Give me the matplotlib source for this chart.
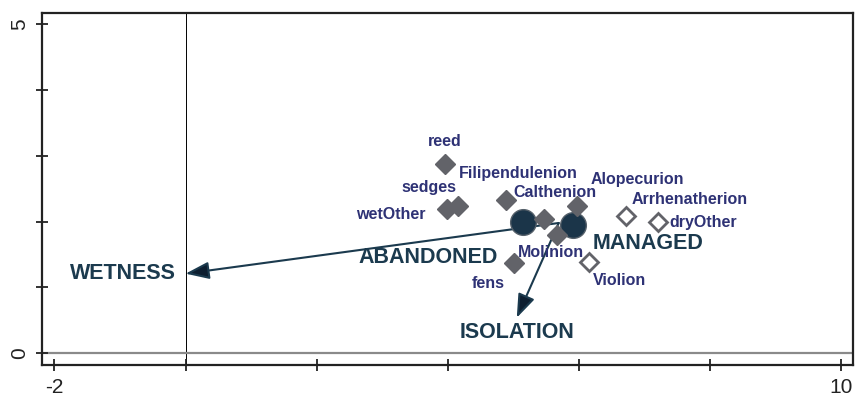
import matplotlib
matplotlib.use("Agg")
import matplotlib.pyplot as plt
from matplotlib.patches import FancyArrowPatch

plt.rcParams["font.family"] = ["Liberation Sans", "DejaVu Sans"]

# ── palette ──────────────────────────────────────────────────────────────
LABEL  = "#2e3275"   # species labels
BIG    = "#1b3a4e"   # site / vector labels
DIAM   = "#626369"   # diamond markers
CIRCLE = "#1b3549"
ARROW  = "#1b3a4e"

# ── data ─────────────────────────────────────────────────────────────────
# filled diamonds (wet / intermediate communities)
wet_names = ["reed", "sedges", "wetOther", "Filipendulenion", "Calthenion",
             "Alopecurion", "Molinion", "fens"]
wet_x = [3.95, 4.15, 3.98, 4.89, 5.47, 5.97, 5.66, 5.01]
wet_y = [2.88, 2.24, 2.19, 2.33, 2.04, 2.24, 1.80, 1.37]

# open diamonds (dry communities)
dry_names = ["Arrhenatherion", "dryOther", "Violion"]
dry_x = [6.71, 7.20, 6.15]
dry_y = [2.09, 1.99, 1.38]

# site centroids
site_names = ["ABANDONED", "MANAGED"]
site_x = [5.15, 5.91]
site_y = [2.00, 1.95]

# environmental vectors (from common origin)
vec_origin = (5.69, 1.98)
vec_names = ["WETNESS", "ISOLATION"]
vec_x = [0.0, 5.05]
vec_y = [1.21, 0.54]

# label offsets in points (dx, dy, ha)
wet_lab = {
    "reed": (0, 16, "center"), "sedges": (-1, 13, "right"),
    "wetOther": (-15.5, -4, "right"), "Filipendulenion": (-34, 19, "left"),
    "Calthenion": (-22, 19, "left"), "Alopecurion": (9.5, 19, "left"),
    "Molinion": (-28, -13, "left"), "fens": (-6.5, -15, "right"),
}
dry_lab = {
    "Arrhenatherion": (4.3, 11.5, "left"), "dryOther": (8.6, 0, "left"),
    "Violion": (3, -13, "left"),
}

fig = plt.figure(figsize=(8.56, 3.96), dpi=100)
ax = fig.add_axes([0.049, 0.078, 0.947, 0.889])

ax.set_xlim(-2.19, 10.17)
ax.set_ylim(-0.18, 5.17)
ax.axvline(0, color="black", linewidth=0.7, zorder=1)
ax.axhline(0, color="#8a8a8a", linewidth=1.6, zorder=1)

# vectors
for name, x, y in zip(vec_names, vec_x, vec_y):
    ar = FancyArrowPatch(vec_origin, (x, y),
                         arrowstyle="-|>,head_length=0.6,head_width=0.22",
                         mutation_scale=24, shrinkA=0, shrinkB=0,
                         color=ARROW, linewidth=1.5, zorder=2)
    ar.set_facecolor("#0d1e30")
    ax.add_patch(ar)
ax.text(vec_x[0] - 0.15, vec_y[0], vec_names[0], ha="right", va="center",
        fontsize=15.5, fontweight="bold", color=BIG)
ax.text(vec_x[1], vec_y[1] - 0.22, vec_names[1], ha="center", va="center",
        fontsize=15.5, fontweight="bold", color=BIG)

# site centroids
ax.plot(site_x, site_y, "o", markersize=18.5, color=CIRCLE,
        markeredgecolor="#55606a", markeredgewidth=1.0, zorder=3,
        linestyle="none")
ax.annotate(site_names[0], (site_x[0], site_y[0]), xytext=(-18.5, -26),
            textcoords="offset points", ha="right", va="center",
            fontsize=15.5, fontweight="bold", color=BIG)
ax.annotate(site_names[1], (site_x[1], site_y[1]), xytext=(14, -13),
            textcoords="offset points", ha="left", va="center",
            fontsize=15.5, fontweight="bold", color=BIG)

# species
ax.plot(wet_x, wet_y, "D", markersize=10.5, color=DIAM, zorder=4,
        linestyle="none")
ax.plot(dry_x, dry_y, "D", markersize=9.5, markerfacecolor="white",
        markeredgecolor=DIAM, markeredgewidth=2, zorder=4, linestyle="none")
for name, x, y in zip(wet_names, wet_x, wet_y):
    dx, dy, ha = wet_lab[name]
    ax.annotate(name, (x, y), xytext=(dx, dy), textcoords="offset points",
                ha=ha, va="center", fontsize=11.5, fontweight="bold",
                color=LABEL, zorder=5)
for name, x, y in zip(dry_names, dry_x, dry_y):
    dx, dy, ha = dry_lab[name]
    ax.annotate(name, (x, y), xytext=(dx, dy), textcoords="offset points",
                ha=ha, va="center", fontsize=11.5, fontweight="bold",
                color=LABEL, zorder=5)

# axes styling
ax.set_xticks([-2, 0, 2, 4, 6, 8, 10])
ax.set_xticklabels(["-2", "", "", "", "", "", "10"])
ax.set_yticks([0, 1, 2, 3, 4, 5])
ax.set_yticklabels(["0", "", "", "", "", "5"], rotation=90, va="center")
ax.tick_params(direction="inout", length=8, width=1.3, labelsize=15,
               colors="#222222", pad=5)
for s in ax.spines.values():
    s.set_linewidth(1.6)
    s.set_color("#222222")

fig.savefig("out.png", dpi=100)
